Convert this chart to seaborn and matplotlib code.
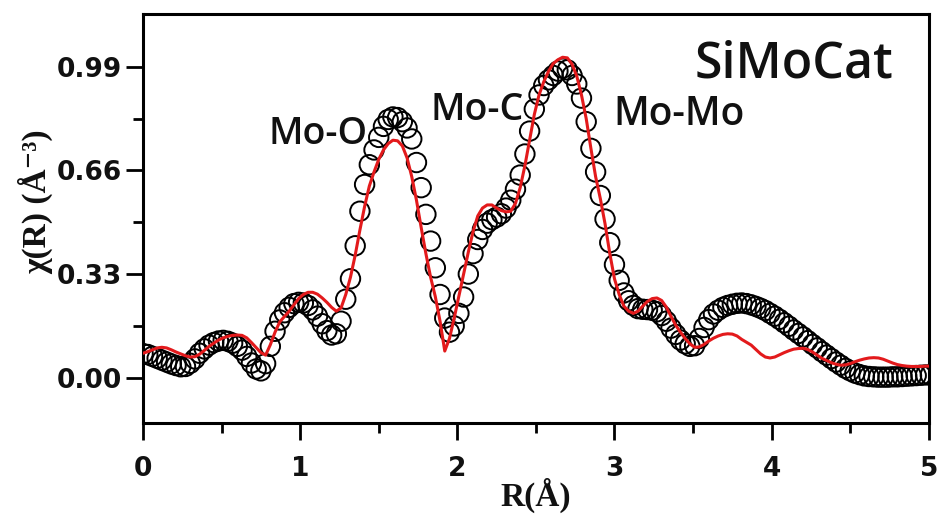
import numpy as np
import pandas as pd
import matplotlib
matplotlib.use("Agg")
import matplotlib.pyplot as plt
from matplotlib.ticker import FixedLocator
import seaborn as sns

# Uniform R grid of the Fourier transform (Å)
r_grid = np.round(np.arange(168) * 0.03, 2)

# Experimental |chi(R)| magnitude (open circles)
chi_exp = [
    0.077, 0.074, 0.068, 0.062, 0.056, 0.050, 0.044, 0.039, 0.035, 0.036,
    0.046, 0.060, 0.078, 0.092, 0.104, 0.112, 0.117, 0.119, 0.116, 0.110,
    0.100, 0.088, 0.068, 0.047, 0.028, 0.022, 0.045, 0.100, 0.148, 0.184,
    0.207, 0.224, 0.236, 0.240, 0.238, 0.230, 0.216, 0.196, 0.172, 0.150,
    0.136, 0.140, 0.180, 0.250, 0.315, 0.420, 0.530, 0.615, 0.678, 0.725,
    0.765, 0.800, 0.822, 0.830, 0.828, 0.815, 0.795, 0.760, 0.685, 0.605,
    0.520, 0.435, 0.350, 0.265, 0.190, 0.145, 0.165, 0.205, 0.257, 0.330,
    0.395, 0.440, 0.472, 0.492, 0.503, 0.511, 0.522, 0.540, 0.565, 0.600,
    0.645, 0.712, 0.785, 0.855, 0.900, 0.930, 0.948, 0.962, 0.976, 0.985,
    0.980, 0.962, 0.935, 0.890, 0.815, 0.730, 0.655, 0.580, 0.505, 0.430,
    0.360, 0.310, 0.270, 0.245, 0.230, 0.220, 0.218, 0.217, 0.215, 0.210,
    0.198, 0.180, 0.158, 0.138, 0.120, 0.108, 0.100, 0.102, 0.125, 0.160,
    0.185, 0.203, 0.215, 0.224, 0.230, 0.234, 0.237, 0.238, 0.236, 0.232,
    0.227, 0.221, 0.214, 0.205, 0.196, 0.186, 0.175, 0.164, 0.152, 0.141,
    0.130, 0.118, 0.106, 0.095, 0.083, 0.072, 0.061, 0.050, 0.040, 0.030,
    0.022, 0.015, 0.010, 0.006, 0.004, 0.003, 0.002, 0.002, 0.002, 0.003,
    0.003, 0.004, 0.005, 0.006, 0.007, 0.008, 0.009, 0.009,
]

# Fitted |chi(R)| (red line)
chi_fit = [
    0.078, 0.083, 0.089, 0.095, 0.097, 0.095, 0.089, 0.082, 0.076, 0.070,
    0.066, 0.067, 0.075, 0.087, 0.100, 0.110, 0.120, 0.127, 0.132, 0.135,
    0.136, 0.135, 0.127, 0.112, 0.096, 0.080, 0.072, 0.105, 0.145, 0.178,
    0.195, 0.212, 0.232, 0.252, 0.265, 0.272, 0.272, 0.266, 0.254, 0.240,
    0.224, 0.212, 0.222, 0.265, 0.320, 0.390, 0.470, 0.545, 0.610, 0.655,
    0.695, 0.725, 0.745, 0.756, 0.754, 0.738, 0.700, 0.640, 0.565, 0.478,
    0.395, 0.320, 0.258, 0.180, 0.085, 0.125, 0.190, 0.260, 0.330, 0.400,
    0.465, 0.515, 0.540, 0.550, 0.550, 0.540, 0.532, 0.528, 0.530, 0.555,
    0.605, 0.675, 0.757, 0.838, 0.900, 0.942, 0.975, 1.000, 1.012, 1.020,
    1.018, 0.998, 0.960, 0.900, 0.825, 0.730, 0.640, 0.570, 0.490, 0.396,
    0.315, 0.265, 0.228, 0.212, 0.205, 0.212, 0.228, 0.243, 0.252, 0.254,
    0.246, 0.225, 0.195, 0.167, 0.145, 0.125, 0.108, 0.097, 0.098, 0.106,
    0.117, 0.126, 0.133, 0.138, 0.140, 0.139, 0.133, 0.122, 0.113, 0.104,
    0.090, 0.076, 0.066, 0.063, 0.066, 0.073, 0.080, 0.086, 0.091, 0.093,
    0.094, 0.090, 0.082, 0.072, 0.062, 0.055, 0.048, 0.043, 0.040, 0.041,
    0.045, 0.051, 0.056, 0.060, 0.063, 0.064, 0.063, 0.059, 0.053, 0.047,
    0.042, 0.039, 0.037, 0.036, 0.036, 0.036, 0.037, 0.037,
]

# Axis ticks
x_major = [0, 1, 2, 3, 4, 5]
x_minor = [0.5, 1.5, 2.5, 3.5, 4.5]
y_major = [0.00, 0.33, 0.66, 0.99]
y_major_labels = ["0.00", "0.33", "0.66", "0.99"]
y_minor = [0.165, 0.495, 0.825]

# Shell annotations: (text, R, chi)
shell_labels = [("Mo-O", 0.80, 0.744), ("Mo-C", 1.83, 0.82), ("Mo-Mo", 2.99, 0.805)]
sample_name = "SiMoCat"

df = pd.DataFrame({"R": r_grid, "exp": chi_exp, "fit": chi_fit})

sns.set_theme(style="ticks")
plt.rcParams["font.family"] = ["DejaVu Sans"]

serif_bold = ["Liberation Serif", "DejaVu Serif"]

fig = plt.figure(figsize=(9.41, 5.14), dpi=100)
ax = fig.add_axes([0.152, 0.177, 0.835, 0.796])

sns.scatterplot(data=df, x="R", y="exp", ax=ax, marker="o", s=14 ** 2,
                facecolor="none", edgecolor="black", linewidth=1.4, zorder=2,
                legend=False)
sns.lineplot(data=df, x="R", y="fit", ax=ax, color="#e31a1c", linewidth=2.2,
             zorder=3, legend=False)

ax.set_xlim(0, 5)
ax.set_ylim(-0.144, 1.158)

ax.xaxis.set_major_locator(FixedLocator(x_major))
ax.xaxis.set_minor_locator(FixedLocator(x_minor))
ax.set_yticks(y_major)
ax.set_yticklabels(y_major_labels)
ax.yaxis.set_minor_locator(FixedLocator(y_minor))

ax.tick_params(axis="both", which="major", direction="out", length=12, width=2,
               color="black")
ax.tick_params(axis="both", which="minor", direction="out", length=7, width=2,
               color="black")
ax.tick_params(axis="x", which="major", pad=12)
ax.tick_params(axis="y", which="major", pad=3.5)
for lbl in ax.get_xticklabels() + ax.get_yticklabels():
    lbl.set_fontsize(19)
    lbl.set_fontweight("bold")
    lbl.set_color("#111111")

for side in ["left", "right", "top", "bottom"]:
    ax.spines[side].set_visible(True)
    ax.spines[side].set_linewidth(2.2)
    ax.spines[side].set_color("black")

ax.set_xlabel("R(Å)", fontsize=24, fontweight="bold", family=serif_bold,
              color="#111111")
ax.set_ylabel("χ(R) (Å⁻³)", fontsize=24, fontweight="bold", family=serif_bold,
              color="#111111")
ax.xaxis.set_label_coords(0.5, -0.135)
ax.yaxis.set_label_coords(-0.115, 0.54)

label_sizes = {"Mo-O": 27, "Mo-C": 27, "Mo-Mo": 28}
for text, rx, cy in shell_labels:
    ax.text(rx, cy, text, fontsize=label_sizes[text], fontweight="semibold",
            family=["Open Sans", "DejaVu Sans"], ha="left", va="baseline",
            color="#111111", zorder=4)
ax.text(3.51, 0.954, sample_name, fontsize=36, fontweight="semibold",
        family=["Open Sans", "DejaVu Sans"], ha="left", va="baseline",
        color="#111111", zorder=4)

ax.set_facecolor("white")
fig.patch.set_facecolor("white")
fig.savefig("out.png", dpi=100)
